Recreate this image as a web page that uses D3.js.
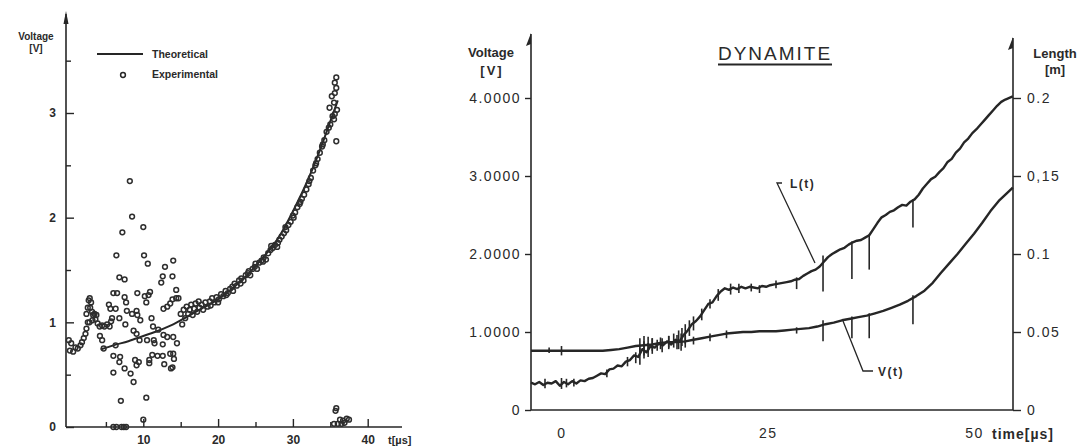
<!DOCTYPE html>
<html><head><meta charset="utf-8">
<script src="https://cdn.jsdelivr.net/npm/d3@7"></script>
<style>
html,body{margin:0;padding:0;background:#fff;}
svg{display:block;}
text{font-family:"Liberation Sans",Arial,sans-serif;fill:#2a2a2a;}
</style></head>
<body>
<svg id="chart" width="1088" height="448"></svg>
<script>
// ---------- LEFT PANEL DATA ----------
const leftYTicks = [0, 1, 2, 3];
const leftYMinor = [0.5, 1.5, 2.5, 3.5];
const leftXTicks = [10, 20, 30, 40];
const leftXMinor = [5, 15, 25, 35];
const legendLabels = ["Theoretical", "Experimental"];
const theoryT = [4.3, 6, 8, 10, 12, 14, 16, 18, 20, 22, 24, 26, 28, 30, 32, 34, 35, 36];
const theoryV = [0.74, 0.78, 0.82, 0.87, 0.92, 0.98, 1.06, 1.14, 1.22, 1.33, 1.46, 1.62, 1.80, 2.06, 2.36, 2.72, 2.92, 3.12];
const experimental = [
 // early hump
 [0.04,0.83],[0.18,0.73],[0.36,0.80],[0.62,0.72],[0.93,0.76],[1.24,0.75],[1.6,0.78],[1.8,0.81],[2.04,0.85],[2.27,0.89],
 [2.4,0.94],[2.58,1.0],[2.4,1.08],[2.58,1.14],[2.7,1.21],[2.84,1.23],[3.02,1.19],[2.9,1.14],[3.16,1.10],[3.3,1.07],
 [3.47,1.08],[3.6,1.03],[3.73,1.07],[3.9,0.99],[4.17,0.96],[4.5,0.97],[4.8,0.96],[5.15,0.98],[5.5,0.96],[5.7,1.01],
 [5.82,1.04],[2.8,1.0],[3.2,1.02],
 // scattered cluster
 [8.2,2.35],[8.5,2.01],[7.2,1.86],[10.0,1.91],[6.4,1.64],[10.1,1.64],[10.6,1.56],[14.0,1.59],[12.9,1.53],[6.8,1.43],
 [7.5,1.41],[12.6,1.44],[13.9,1.44],[12.4,1.38],[14.4,1.31],[6.0,1.28],[6.5,1.28],[9.2,1.28],[10.9,1.29],[10.7,1.26],
 [7.5,1.24],[10.2,1.25],[10.4,1.19],[7.7,1.19],[5.4,1.17],[6.3,1.13],[5.6,1.13],[9.1,1.11],[7.8,1.11],[8.5,1.08],
 [6.8,1.04],[11.1,1.04],[9.2,1.07],[9.6,1.02],[12.7,1.13],[13.2,1.15],[13.6,1.18],[13.9,1.22],[14.4,1.23],[14.7,1.23],
 [7.6,0.98],[8.7,0.92],[9.1,0.89],[11.3,0.96],[12.0,0.93],[10.5,0.83],[9.5,0.83],[11.4,0.83],[11.5,0.80],[12.7,0.88],
 [13.2,0.86],[14.0,0.86],[14.5,0.80],[12.6,0.79],[6.3,0.78],[4.2,0.87],[4.5,0.83],[4.7,0.75],[6.0,0.68],[6.9,0.67],
 [6.8,0.62],[7.5,0.56],[6.0,0.52],[8.3,0.51],[8.9,0.64],[9.4,0.62],[9.1,0.59],[8.7,0.43],[10.8,0.64],[10.8,0.61],
 [11.2,0.69],[11.9,0.68],[12.6,0.68],[12.8,0.60],[13.6,0.70],[14.0,0.70],[14.1,0.65],[13.7,0.56],[13.9,0.57],[7.0,0.25],
 [10.4,0.28],[10.0,0.07],[6.0,0],[6.4,0],[7.1,0],[7.4,0],[7.7,0],
 // band along theory
 [15.0,1.08],[15.2,0.98],[15.4,1.12],[15.6,1.04],[15.8,1.15],[16.0,1.08],[16.2,1.12],[16.4,1.17],[16.6,1.07],[16.8,1.13],
 [17.0,1.18],[17.2,1.10],[17.5,1.14],[17.8,1.17],[18.0,1.12],[18.3,1.19],[18.6,1.15],[18.9,1.20],[19.2,1.23],[19.5,1.19],
 [19.8,1.24],[20.1,1.22],[20.4,1.27],[20.7,1.25],[21.0,1.30],[21.3,1.28],[21.6,1.32],[21.9,1.34],[22.2,1.37],[22.5,1.35],
 [22.8,1.40],[23.1,1.42],[23.4,1.40],[23.7,1.45],[24.0,1.47],[24.3,1.45],[24.6,1.51],[24.9,1.53],[25.2,1.51],[25.5,1.57],
 [25.8,1.59],[26.1,1.62],[26.4,1.60],[26.7,1.66],[27.0,1.69],[27.3,1.71],[27.6,1.74],[27.9,1.72],[28.2,1.79],[28.5,1.82],
 [28.8,1.85],[29.1,1.88],[29.4,1.93],[29.7,1.96],[30.0,2.02],[30.3,2.05],[30.6,2.10],[30.9,2.13],[31.2,2.18],[31.5,2.22],
 [31.8,2.27],[32.1,2.32],[32.4,2.38],[32.7,2.45],[33.0,2.50],[33.3,2.56],[33.6,2.62],[33.9,2.68],[34.2,2.74],[34.5,2.82],
 [34.8,2.86],[35.0,2.89],[35.5,2.94],[35.6,2.99],[35.9,3.03],[34.9,3.05],[35.5,3.10],[35.2,3.16],[35.6,3.19],[35.8,3.24],
 [35.6,3.29],[35.8,3.34],[35.8,2.73],
 [17.4,1.20],[19.0,1.16],[21.1,1.26],[23.0,1.37],[25.0,1.56],[27.1,1.73],[29.0,1.91],[31.0,2.15],[33.1,2.52],[34.0,2.70],
 [35.3,2.97],[22.0,1.30],[26.0,1.58],[28.0,1.76],[30.1,2.00],[32.2,2.35],[20.0,1.19],[24.1,1.49],
 // near zero at end
 [35.8,0.18],[35.7,0.155],[36.3,0.07],[36.7,0.06],[37.2,0.08],[37.5,0.07],[36.0,0.03],[36.5,0.03],[36.9,0.04],[35.5,0.03]
];

// ---------- RIGHT PANEL DATA ----------
const rightTitle = "DYNAMITE";
const voltTicks = [0, 1, 2, 3, 4];
const voltLabels = ["0", "1.0000", "2.0000", "3.0000", "4.0000"];
const lenTicks = [0, 0.05, 0.1, 0.15, 0.2];
const lenLabels = ["0", "0.05", "0.1", "0,15", "0.2"];
const timeTicks = [0, 25, 50];
const lenT = [-3.7,-3.2,-2.7,-2.2,-1.7,-1.2,-0.7,-0.2,0.3,0.8,1.3,1.8,2.3,2.8,3.3,3.8,4.3,4.8,5.3,5.8,6.3,6.8,7.3,7.8,8.3,8.8,9.3,9.8,10.3,10.8,11.3,11.8,12.3,12.8,13.3,13.8,14.3,14.8,15.3,15.8,16.3,16.8,17.3,17.8,18.3,18.8,19.3,19.8,20.3,20.8,21.3,21.8,22.3,22.8,23.3,23.8,24.3,24.8,25.3,25.8,26.3,26.8,27.3,27.8,28.3,28.8,29.3,29.8,30.3,30.8,31.3,31.8,32.3,32.8,33.3,33.8,34.3,34.8,35.3,35.8,36.3,36.8,37.3,37.8,38.3,38.8,39.3,39.8,40.3,40.8,41.3,41.8,42.3,42.8,43.3,43.8,44.3,44.8,45.3,45.8,46.3,46.8,47.3,47.8,48.3,48.8,49.3,49.8,50.3,50.8,51.3,51.8,52.3,52.8,53.3,53.8,54.7];
const lenV = [0.35,0.33,0.36,0.32,0.35,0.34,0.37,0.31,0.36,0.33,0.37,0.34,0.38,0.37,0.40,0.41,0.44,0.47,0.46,0.52,0.53,0.57,0.56,0.62,0.64,0.70,0.68,0.78,0.74,0.82,0.80,0.85,0.83,0.88,0.84,0.90,0.88,0.96,1.02,1.10,1.14,1.20,1.28,1.36,1.38,1.46,1.52,1.56,1.54,1.57,1.55,1.58,1.56,1.58,1.57,1.56,1.59,1.58,1.60,1.61,1.62,1.63,1.64,1.65,1.67,1.68,1.72,1.75,1.78,1.80,1.84,1.90,1.96,2.00,2.03,2.06,2.08,2.12,2.15,2.17,2.18,2.21,2.24,2.32,2.40,2.47,2.50,2.54,2.56,2.60,2.63,2.62,2.67,2.70,2.76,2.84,2.90,2.96,2.99,3.05,3.10,3.18,3.22,3.30,3.35,3.43,3.48,3.55,3.60,3.66,3.72,3.78,3.84,3.90,3.95,3.98,4.02];
const lenSpikes = [[-2.0,0.28,0.40],[0.0,0.27,0.41],[0.6,0.29,0.40],[1.5,0.30,0.40],[5.5,0.42,0.52],[8.0,0.56,0.68],[9.0,0.60,0.74],[9.5,0.58,0.80],[10.0,0.66,0.88],[10.5,0.68,0.86],[11.0,0.72,0.92],[11.6,0.76,0.90],[12.2,0.74,0.92],[13.0,0.78,0.95],[13.6,0.80,0.98],[14.2,0.78,1.02],[14.6,0.82,1.05],[15.0,0.85,1.10],[15.5,0.95,1.15],[16.0,1.02,1.20],[17.0,1.15,1.30],[18.0,1.30,1.42],[19.0,1.40,1.55],[20.5,1.48,1.62],[21.5,1.50,1.62],[23.0,1.52,1.62],[24.0,1.50,1.60],[26.0,1.56,1.66],[28.5,1.55,1.70],[31.7,1.52,1.98],[35.2,1.68,2.16],[37.3,1.80,2.25],[42.6,2.34,2.70]];
const voltT = [-3.7,0,3,5,6,7,8,9,10,11,12,13,14,15,16,17,18,19,20,21,22,23,24,25,26,27,28,29,30,31,32,33,34,35,36,37,38,39,40,41,42,43,44,45,46,47,48,49,50,51,52,53,54,54.7];
const voltV = [0.76,0.76,0.76,0.76,0.77,0.78,0.80,0.82,0.83,0.84,0.86,0.87,0.87,0.88,0.90,0.92,0.94,0.96,0.98,0.99,1.00,1.00,1.01,1.01,1.01,1.02,1.03,1.04,1.05,1.07,1.10,1.12,1.15,1.17,1.19,1.21,1.24,1.27,1.31,1.35,1.40,1.46,1.53,1.63,1.76,1.88,2.00,2.13,2.26,2.40,2.55,2.68,2.78,2.85];
const voltSpikes = [[0.0,0.70,0.82],[-1.5,0.73,0.80],[9.5,0.72,0.92],[10.0,0.70,0.95],[10.5,0.74,0.94],[11.0,0.76,0.92],[12.0,0.78,0.93],[13.0,0.80,0.95],[14.0,0.78,0.96],[14.5,0.76,0.98],[15.0,0.80,0.95],[16.0,0.84,0.94],[18.0,0.88,0.98],[20.0,0.92,1.02],[28.5,0.98,1.06],[31.7,0.88,1.15],[35.2,0.92,1.20],[37.3,0.92,1.24],[42.6,1.10,1.47]];

// ---------- DRAW ----------
const svg = d3.select("#chart");
const ink = "#262626";

// ===== Left panel =====
const xL = d3.scaleLinear().domain([0, 40]).range([68.5, 367.7]);
const yL = d3.scaleLinear().domain([0, 3]).range([427, 113]);
const gL = svg.append("g");

gL.append("line").attr("x1", 66).attr("x2", 66).attr("y1", 427).attr("y2", 14).attr("stroke", ink).attr("stroke-width", 1.6);
gL.append("path").attr("d", "M66,11 L63.5,24 L68.5,24 Z").attr("fill", ink);
gL.append("line").attr("x1", 66).attr("x2", 402).attr("y1", 427).attr("y2", 427).attr("stroke", ink).attr("stroke-width", 1.6);

const axL = gL.append("g").attr("transform", "translate(66,0)")
  .call(d3.axisLeft(yL).tickValues(leftYTicks).tickFormat(d3.format("d")).tickSize(-8).tickPadding(10));
const axLm = gL.append("g").attr("transform", "translate(66,0)")
  .call(d3.axisLeft(yL).tickValues(leftYMinor).tickFormat("").tickSize(-5));
const axB = gL.append("g").attr("transform", "translate(0,427)")
  .call(d3.axisBottom(xL).tickValues(leftXTicks).tickFormat(d3.format("d")).tickSize(-8).tickPadding(8));
const axBm = gL.append("g").attr("transform", "translate(0,427)")
  .call(d3.axisBottom(xL).tickValues(leftXMinor).tickFormat("").tickSize(-5));
[axL, axLm, axB, axBm].forEach(a => {
  a.select(".domain").remove();
  a.selectAll("line").attr("stroke", ink).attr("stroke-width", 1.4);
  a.selectAll("text").attr("font-size", 12).attr("font-weight", "bold").attr("fill", ink).attr("font-family", "Liberation Sans, Arial, sans-serif");
});
gL.append("text").attr("x", 388).attr("y", 444).attr("font-size", 11).attr("font-weight", "bold").text("t[µs]");
gL.append("text").attr("x", 36).attr("y", 40).attr("text-anchor", "middle").attr("font-size", 10).attr("font-weight", "bold").text("Voltage");
gL.append("text").attr("x", 36).attr("y", 52).attr("text-anchor", "middle").attr("font-size", 10).attr("font-weight", "bold").text("[V]");

// legend
gL.append("line").attr("x1", 97).attr("x2", 143).attr("y1", 54).attr("y2", 54).attr("stroke", ink).attr("stroke-width", 2);
gL.append("circle").attr("cx", 123).attr("cy", 75).attr("r", 2.4).attr("fill", "none").attr("stroke", ink).attr("stroke-width", 1.5);
gL.append("text").attr("x", 152).attr("y", 58).attr("font-size", 10.5).attr("font-weight", "bold").text(legendLabels[0]);
gL.append("text").attr("x", 152).attr("y", 78).attr("font-size", 10.5).attr("font-weight", "bold").text(legendLabels[1]);

// theoretical line
gL.append("path")
  .datum(theoryT.map((t, i) => [t, theoryV[i]]))
  .attr("d", d3.line().x(d => xL(d[0])).y(d => yL(d[1])).curve(d3.curveMonotoneX))
  .attr("fill", "none").attr("stroke", ink).attr("stroke-width", 2);

// experimental points
gL.append("g").selectAll("circle").data(experimental).join("circle")
  .attr("cx", d => xL(d[0])).attr("cy", d => yL(d[1])).attr("r", 2.4)
  .attr("fill", "none").attr("stroke", "#2e2e2e").attr("stroke-width", 1.5);

// ===== Right panel =====
const xR = d3.scaleLinear().domain([0, 50]).range([561.5, 974]);
const yR = d3.scaleLinear().domain([0, 4]).range([410, 98]);
const yLen = d3.scaleLinear().domain([0, 0.2]).range([410, 98]);
const gR = svg.append("g");

gR.append("line").attr("x1", 531).attr("x2", 531).attr("y1", 410).attr("y2", 34).attr("stroke", ink).attr("stroke-width", 1.6);
gR.append("path").attr("d", "M531,33 L526,46 L531,44 Z").attr("fill", ink);
gR.append("line").attr("x1", 1013).attr("x2", 1013).attr("y1", 410).attr("y2", 38).attr("stroke", ink).attr("stroke-width", 1.6);
gR.append("path").attr("d", "M1013,37 L1008,50 L1013,48 Z").attr("fill", ink);
gR.append("line").attr("x1", 531).attr("x2", 1013).attr("y1", 410).attr("y2", 410).attr("stroke", ink).attr("stroke-width", 1.6);

const axVL = gR.append("g").attr("transform", "translate(531,0)")
  .call(d3.axisLeft(yR).tickValues(voltTicks).tickFormat((d, i) => voltLabels[i]).tickSize(6).tickPadding(4));
const axLR = gR.append("g").attr("transform", "translate(1013,0)")
  .call(d3.axisRight(yLen).tickValues(lenTicks).tickFormat((d, i) => lenLabels[i]).tickSize(8).tickPadding(6));
const axTB = gR.append("g").attr("transform", "translate(0,410)")
  .call(d3.axisBottom(xR).tickValues(timeTicks).tickFormat(d3.format("d")).tickSize(0).tickPadding(18));
[axVL, axLR, axTB].forEach(a => {
  a.select(".domain").remove();
  a.selectAll("line").attr("stroke", ink).attr("stroke-width", 1.4);
  a.selectAll("text").attr("font-size", 14).attr("fill", ink).attr("letter-spacing", 1.5).attr("font-family", "Liberation Sans, Arial, sans-serif");
});
gR.append("text").attr("x", 992).attr("y", 439).attr("font-size", 14).attr("font-weight", "bold").attr("letter-spacing", 1).text("time[µs]");
gR.append("text").attr("x", 491).attr("y", 57).attr("text-anchor", "middle").attr("font-size", 13).attr("font-weight", "bold").text("Voltage");
gR.append("text").attr("x", 492).attr("y", 75).attr("text-anchor", "middle").attr("font-size", 13).attr("font-weight", "bold").attr("letter-spacing", 2).text("[V]");
gR.append("text").attr("x", 1055).attr("y", 58).attr("text-anchor", "middle").attr("font-size", 13).attr("font-weight", "bold").text("Length");
gR.append("text").attr("x", 1055).attr("y", 74).attr("text-anchor", "middle").attr("font-size", 13).attr("font-weight", "bold").text("[m]");

// title
gR.append("text").attr("x", 775).attr("y", 60).attr("text-anchor", "middle").attr("font-size", 19).attr("letter-spacing", 2).text(rightTitle);
gR.append("line").attr("x1", 718).attr("x2", 832).attr("y1", 64.5).attr("y2", 64.5).attr("stroke", ink).attr("stroke-width", 2);

// curves
const lineR = d3.line().x(d => xR(d[0])).y(d => yR(d[1]));
gR.append("path").datum(lenT.map((t, i) => [t, lenV[i]])).attr("d", lineR)
  .attr("fill", "none").attr("stroke", ink).attr("stroke-width", 2.4).attr("stroke-linejoin", "round");
gR.append("path").datum(voltT.map((t, i) => [t, voltV[i]])).attr("d", lineR)
  .attr("fill", "none").attr("stroke", ink).attr("stroke-width", 2.4).attr("stroke-linejoin", "round");
gR.append("g").selectAll("line").data(lenSpikes.concat(voltSpikes)).join("line")
  .attr("x1", d => xR(d[0])).attr("x2", d => xR(d[0]))
  .attr("y1", d => yR(d[1])).attr("y2", d => yR(d[2]))
  .attr("stroke", ink).attr("stroke-width", 1.6);

// annotations
gR.append("path").attr("d", "M782,183 L777,183 L815,263").attr("fill", "none").attr("stroke", ink).attr("stroke-width", 1.3);
gR.append("text").attr("x", 790).attr("y", 188).attr("font-size", 12).attr("font-weight", "bold").attr("letter-spacing", 1.5).text("L(t)");
gR.append("path").attr("d", "M843,321 L863,371 L873,371").attr("fill", "none").attr("stroke", ink).attr("stroke-width", 1.3);
gR.append("text").attr("x", 878).attr("y", 376).attr("font-size", 12).attr("font-weight", "bold").attr("letter-spacing", 1.5).text("V(t)");
</script>
</body></html>
